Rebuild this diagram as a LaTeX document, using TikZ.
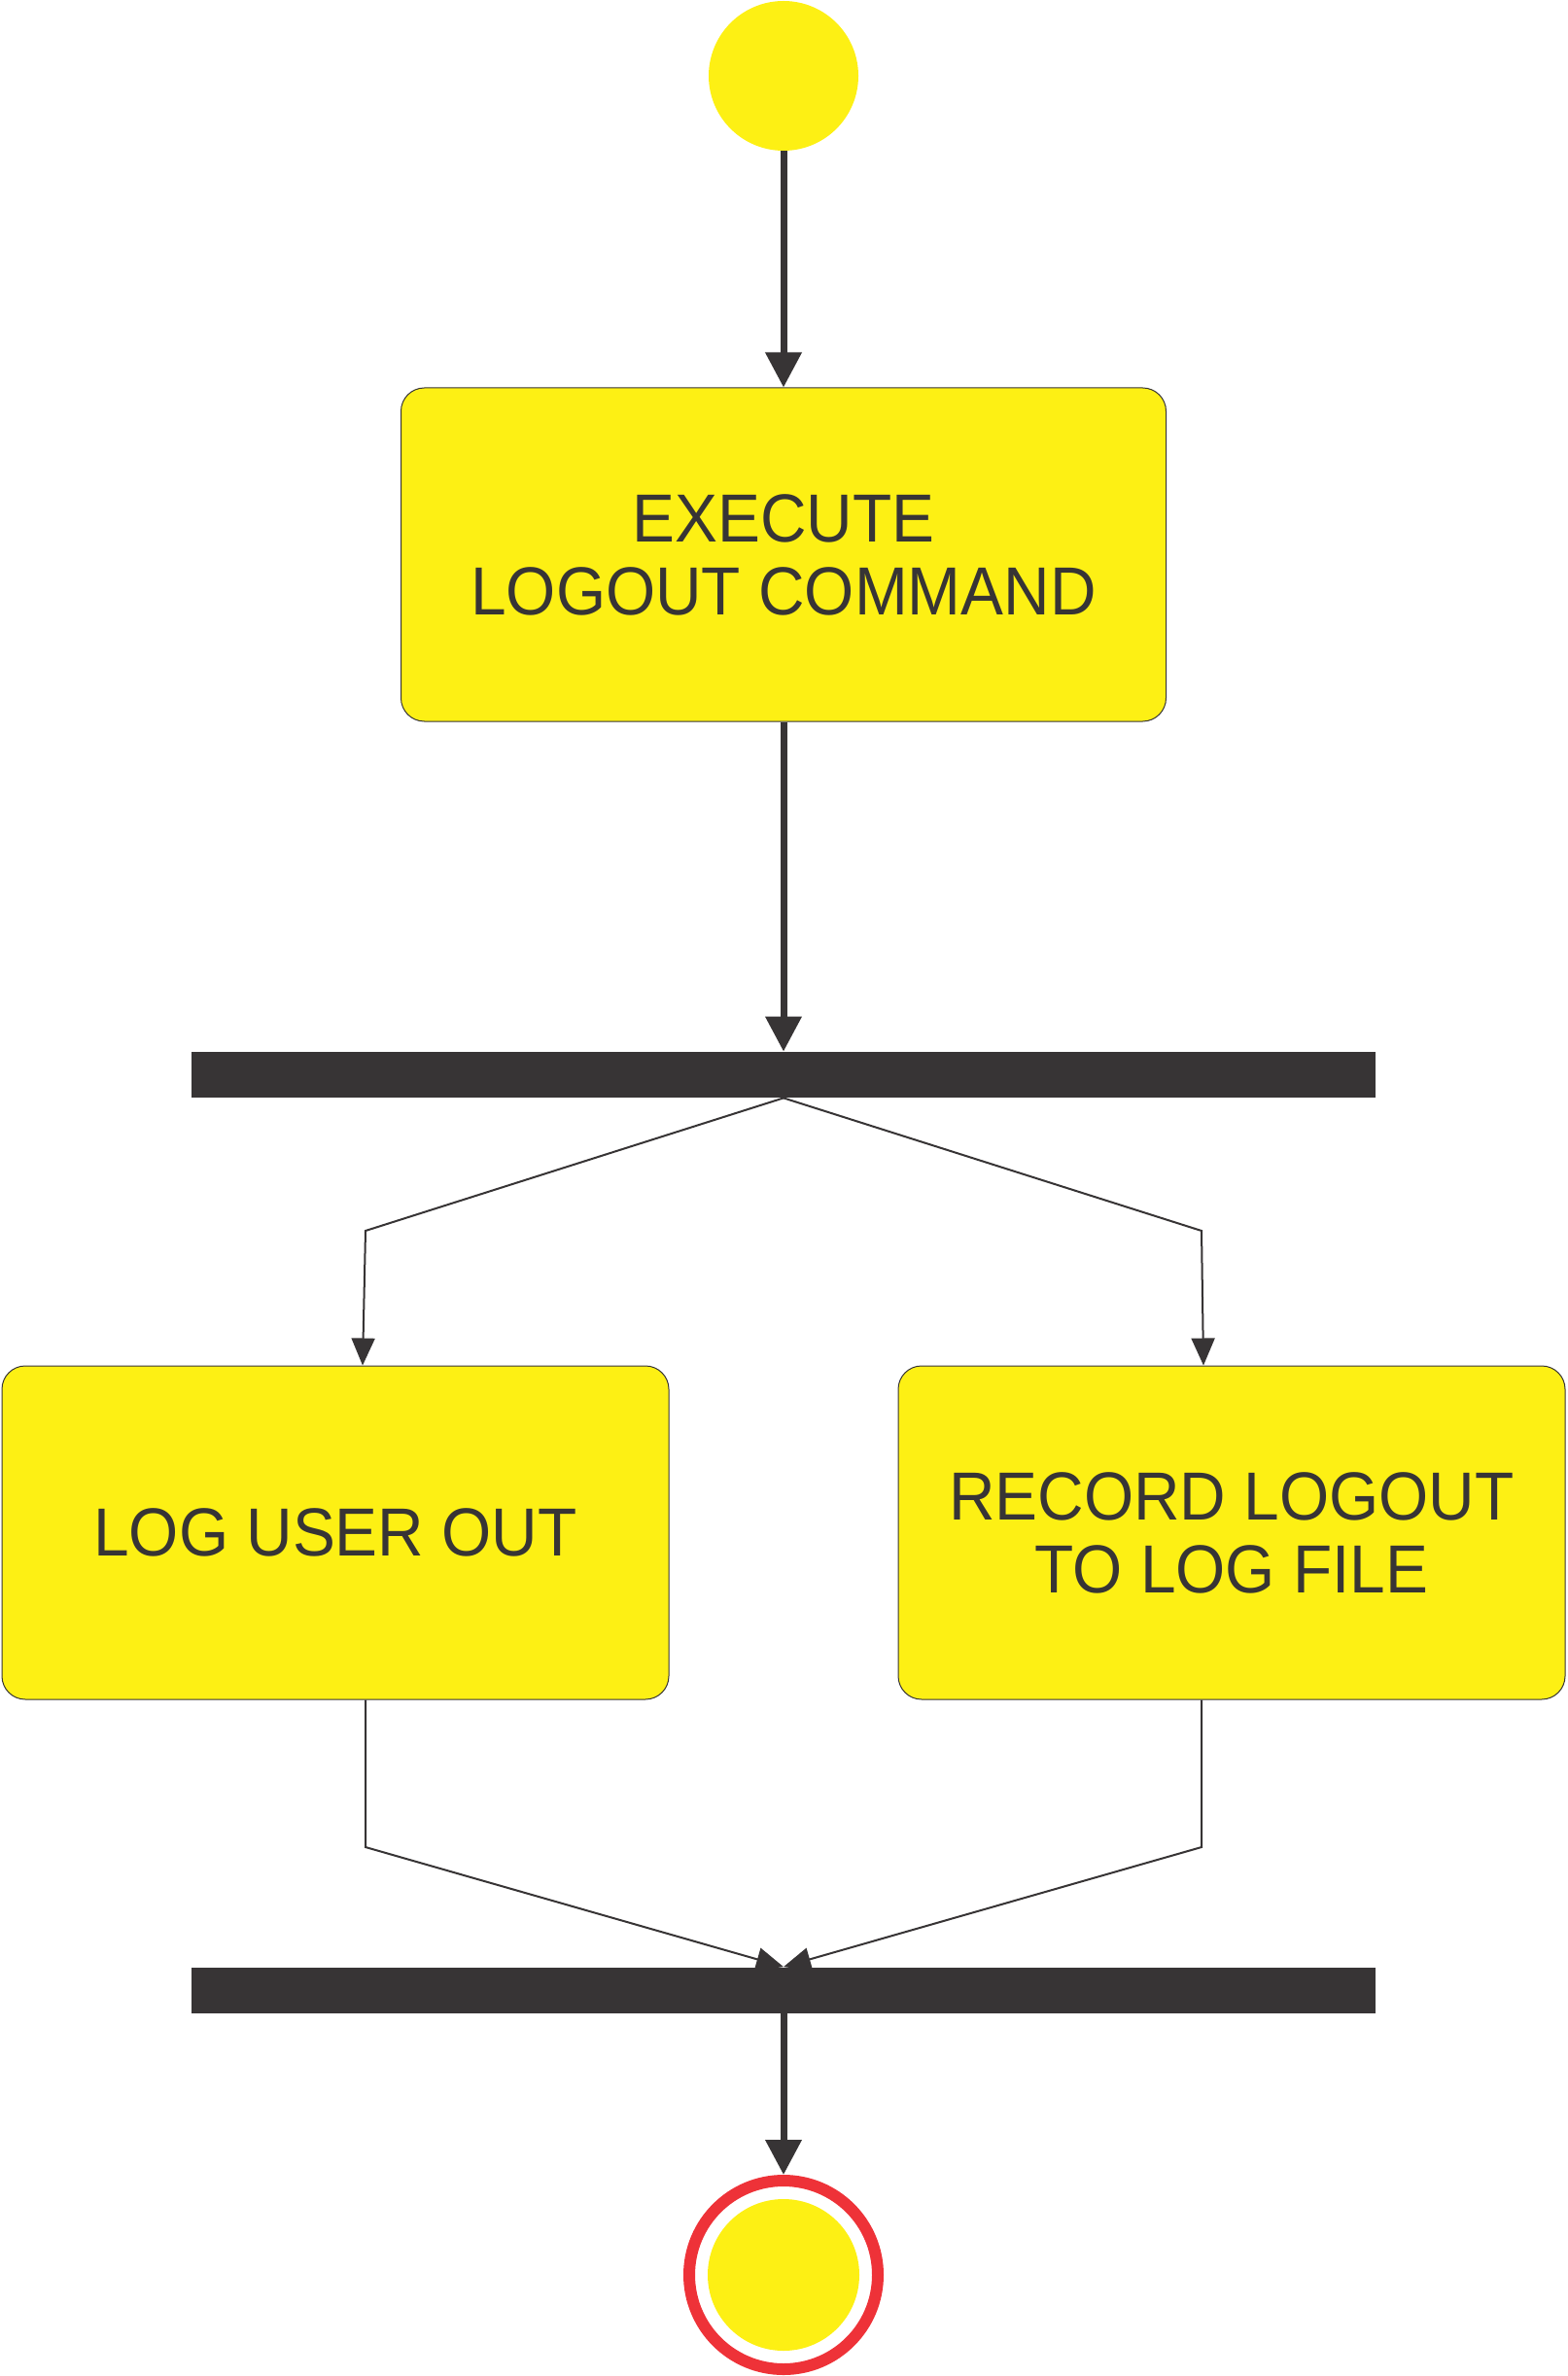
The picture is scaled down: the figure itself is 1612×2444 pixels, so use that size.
\documentclass[tikz,border=0pt]{standalone}
\usepackage{fontspec}
\setmainfont{Liberation Sans}[FakeStretch=0.94]
\usetikzlibrary{arrows.meta,calc}
\definecolor{uyellow}{RGB}{253,240,20}
\definecolor{udark}{RGB}{55,52,53}
\definecolor{ured}{RGB}{238,50,56}
\pgfdeclarelayer{background}
\pgfsetlayers{background,main}
\begin{document}
\begin{tikzpicture}[x=0.5pt,y=-0.5pt,
  actbox/.style={rectangle, rounded corners=12pt, fill=uyellow, draw=udark,
    line width=0.5pt, minimum height=171.5pt, align=center, text=udark,
    font=\fontsize{35}{37.5}\selectfont, inner sep=0pt},
  syncbar/.style={rectangle, fill=udark, minimum width=609pt, minimum height=23.5pt, inner sep=0pt},
  startdot/.style={circle, fill=uyellow, minimum size=77pt, inner sep=0pt},
  endring/.style={circle, draw=ured, line width=6pt, minimum size=97pt, inner sep=0pt},
  enddot/.style={circle, fill=uyellow, minimum size=78pt, inner sep=0pt},
  thickarrow/.style={draw=udark, line width=3.5pt, -{Triangle[length=18pt,width=18pt]}},
  thinarrow/.style={draw=udark, line width=1pt, -{Triangle[length=14pt,width=12pt]}}]
\useasboundingbox (0,0) rectangle (1612,2444);
\node[startdot] (start) at (806,78) {};
\node[actbox, minimum width=393.5pt] (exec) at (806,570.5) {EXECUTE\\LOGOUT COMMAND};
\node[syncbar] (fork) at (806,1105.5) {};
\node[actbox, minimum width=343pt] (logout) at (345,1576.5) {LOG USER OUT};
\node[actbox, minimum width=343pt] (record) at (1267,1576.5) {RECORD LOGOUT\\TO LOG FILE};
\node[syncbar] (join) at (806,2047) {};
\node[endring] (end) at (806,2340) {};
\node[enddot] (endin) at (806,2340) {};
\coordinate (kl) at (376,1266);
\coordinate (kr) at (1236,1266);
\coordinate (jl) at (376,1900);
\coordinate (jr) at (1236,1900);
\begin{pgfonlayer}{background}
\draw[thickarrow] (start.south) -- (exec.north);
\draw[thickarrow] (exec.south) -- (fork.north);
\draw[thinarrow] (fork.south) -- (kl) -- ($(logout.north)+(28,0)$);
\draw[thinarrow] (fork.south) -- (kr) -- ($(record.north)+(-29,0)$);
\draw[thinarrow] ($(logout.south)+(31,0)$) -- (jl) -- (join.north);
\draw[thinarrow] ($(record.south)+(-31,0)$) -- (jr) -- (join.north);
\draw[thickarrow] (join.south) -- (end.north);
\end{pgfonlayer}
\end{tikzpicture}
\end{document}
